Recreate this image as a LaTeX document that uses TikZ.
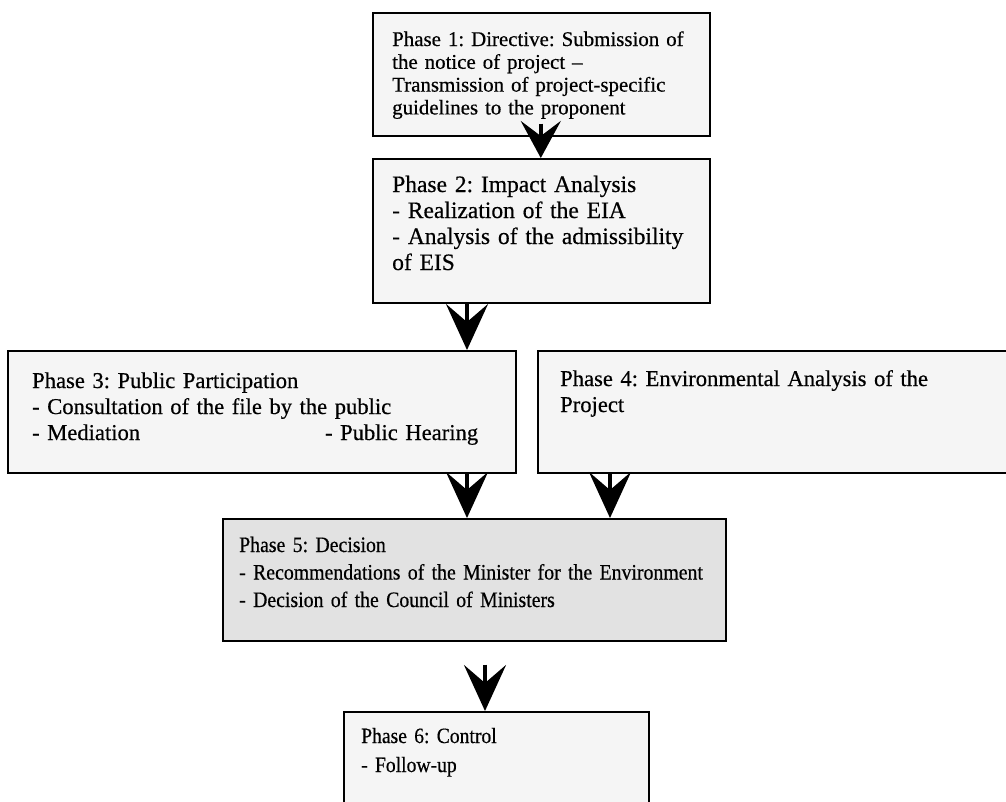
\documentclass[tikz,border=0pt]{standalone}
\usepackage{fontspec}
\setmainfont{Liberation Serif}[FakeBold=0.5]
\newfontfamily\narrowserif{Liberation Serif}[FakeBold=0.5, FakeStretch=0.9]
\frenchspacing
\usetikzlibrary{arrows.meta}

\definecolor{boxfill}{HTML}{F5F5F5}
\definecolor{decisionfill}{HTML}{E2E2E2}

\tikzset{
  phasebox/.style={draw=black, line width=1.6pt, fill=boxfill, anchor=north west, inner sep=0pt},
  phasetext/.style={anchor=base west, inner sep=0pt, align=left, text width=#1},
  flow/.style={line width=4pt, -{Stealth[length=46pt, width=42pt, inset=18pt]}},
}

\begin{document}
\begin{tikzpicture}[x=1pt, y=-1pt]
\useasboundingbox (0,0) rectangle (1006,801);
\clip (0,0) rectangle (1006,801);
\fill[white] (0,0) rectangle (1006,801);

% phase boxes
\node[phasebox, minimum width=337pt, minimum height=123pt] (b1) at (372,12) {};
\node[phasebox, minimum width=337pt, minimum height=144pt] (b2) at (372,158) {};
\node[phasebox, minimum width=508pt, minimum height=122pt] (b3) at (7,350) {};
\node[phasebox, minimum width=480pt, minimum height=122pt] (b4) at (537,350) {};
\node[phasebox, fill=decisionfill, minimum width=503pt, minimum height=122pt] (b5) at (222,518) {};
\node[phasebox, minimum width=305pt, minimum height=110pt] (b6) at (343,711) {};

% box texts
\node[phasetext=320pt, font={\fontsize{20.9}{22.8}\selectfont}] (t1) at (392,46) {%
  Phase 1: Directive: Submission of\\
  the notice of project --\\
  Transmission of project-specific\\
  guidelines to the proponent};
\node[phasetext=320pt, font={\fontsize{23.5}{26}\selectfont}] (t2) at (392,192) {%
  Phase 2: Impact Analysis\\
  - Realization of the EIA\\
  - Analysis of the admissibility\\
  of EIS};
\node[phasetext=470pt, font={\fontsize{22.6}{26}\selectfont}] (t3) at (32,388) {%
  Phase 3: Public Participation\\
  - Consultation of the file by the public\\
  \makebox[446pt][l]{- Mediation\hfill - Public Hearing}};
\node[phasetext=460pt, font={\fontsize{22.6}{26}\selectfont}] (t4) at (560,386) {%
  \makebox[440pt][s]{Phase 4: Environmental Analysis of the}\\
  Project};
\node[phasetext=480pt, font={\narrowserif\fontsize{22}{27.5}\selectfont}] (t5) at (239,552) {%
  Phase 5: Decision\\
  - Recommendations of the Minister for the Environment\\
  - Decision of the Council of Ministers};
\node[phasetext=280pt, font={\narrowserif\fontsize{21.8}{29}\selectfont}] (t6) at (361,743) {%
  Phase 6: Control\\
  - Follow-up};

% flow arrows
\draw[flow, -{Stealth[length=37pt, width=40pt, inset=15pt]}] ([xshift=-0.5pt, yshift=13pt]b1.south) -- ([xshift=-0.5pt]b2.north);
\draw[flow] (b2.south -| 467,0) -- (b3.north -| 467,0);
\draw[flow] (b3.south -| 467,0) -- (b5.north -| 467,0);
\draw[flow] (b4.south -| 610,0) -- (b5.north -| 610,0);
\draw[flow] ([yshift=-23pt]b5.south -| 485,0) -- (b6.north -| 485,0);
\end{tikzpicture}
\end{document}
